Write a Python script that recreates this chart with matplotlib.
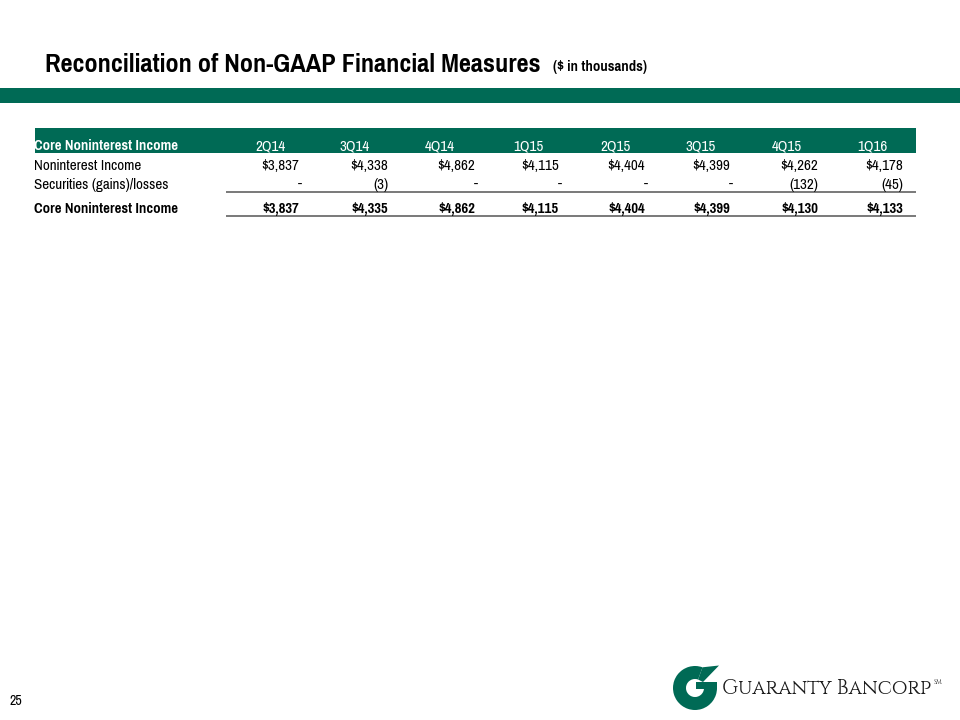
import matplotlib
matplotlib.use("Agg")
import matplotlib.pyplot as plt
from matplotlib.patches import Rectangle, Wedge, Polygon
from matplotlib import font_manager

# ---------------- data ----------------
quarters = ["2Q14", "3Q14", "4Q14", "1Q15", "2Q15", "3Q15", "4Q15", "1Q16"]
noninterest_income = ["$3,837", "$4,338", "$4,862", "$4,115", "$4,404", "$4,399", "$4,262", "$4,178"]
securities_gains_losses = ["-", "(3)", "-", "-", "-", "-", "(132)", "(45)"]
core_noninterest_income = ["$3,837", "$4,335", "$4,862", "$4,115", "$4,404", "$4,399", "$4,130", "$4,133"]
row_labels = ["Noninterest Income", "Securities (gains)/losses", "Core Noninterest Income"]
table_title = "Core Noninterest Income"
title = "Reconciliation of Non-GAAP Financial Measures"
subtitle = "($ in thousands)"
page_number = "25"
logo_text = "Guaranty Bancorp"

# ---------------- style ----------------
GREEN = "#006A55"
avail = {f.name for f in font_manager.fontManager.ttflist}
def pick(cands):
    return [f for f in cands if f in avail] + ["DejaVu Sans"]
narrow = pick(["Pragati Narrow", "Roboto Condensed", "Liberation Sans"])
logo_font = pick(["Cinzel", "Liberation Serif"])

fig = plt.figure(figsize=(9.6, 7.2), dpi=100)
ax = fig.add_axes([0, 0, 1, 1])
ax.set_xlim(0, 960)
ax.set_ylim(720, 0)
ax.axis("off")

# title
ax.text(45, 71.5, title, fontsize=20.6, fontweight="bold", family=narrow, color="black", va="baseline")
ax.text(553, 70.5, subtitle, fontsize=11.5, fontweight="bold", family=narrow, color="black", va="baseline")

# green band
ax.add_patch(Rectangle((0, 88), 960, 15, color=GREEN, lw=0))

# table header band
ax.add_patch(Rectangle((35, 127.5), 881, 25.5, color=GREEN, lw=0))
FS = 11.8
ax.text(34, 150.5, table_title, fontsize=FS - 0.3, fontweight="bold", family=narrow, color="white", va="baseline")
head_x = [255, 339, 425, 513, 600, 685, 772, 857]
for hx, q in zip(head_x, quarters):
    ax.text(hx, 150.5, q, fontsize=FS, family=narrow, color="white", va="baseline")

col_right = [299, 388, 475, 559, 645, 730, 818, 903]
row_y = [170.5, 188.5, 213]

ax.text(34, row_y[0], row_labels[0], fontsize=FS, family=narrow, va="baseline")
ax.text(34, row_y[1], row_labels[1], fontsize=FS, family=narrow, va="baseline")
ax.text(34, row_y[2], row_labels[2], fontsize=FS - 0.3, fontweight="bold", family=narrow, va="baseline")

for cx, v1, v2, v3 in zip(col_right, noninterest_income, securities_gains_losses, core_noninterest_income):
    ax.text(cx, row_y[0], v1, fontsize=FS, family=narrow, ha="right", va="baseline")
    dx = 3 if v2 == "-" else 0
    ax.text(cx + dx, row_y[1], v2, fontsize=FS, family=narrow, ha="right", va="baseline")
    ax.text(cx, row_y[2], v3, fontsize=FS - 0.3, fontweight="bold", family=narrow, ha="right", va="baseline")

# rule lines
ax.plot([226, 916], [192.3, 192.3], color="#6e6e6e", lw=1.3, solid_capstyle="butt")
ax.plot([226, 916], [216, 216], color="#6e6e6e", lw=1.3, solid_capstyle="butt")

# page number
ax.text(10, 705, page_number, fontsize=11, family=narrow, va="baseline")

# logo mark (stylised G)
ax.add_patch(Wedge((695, 688), 22, 0, 290, width=13, color=GREEN, lw=0))
ax.add_patch(Rectangle((696, 682), 21, 7, color=GREEN, lw=0))
ax.add_patch(Polygon([[702.5, 667.3], [719, 665.5], [703, 682], [698.1, 679.5]], closed=True, color=GREEN, lw=0))

# logo wordmark (small caps serif), sized to span the reference width
wm = ax.text(722, 693.5, logo_text, fontsize=15, family=logo_font, va="baseline", color="#1a1a1a")
renderer = fig.canvas.get_renderer()
w = wm.get_window_extent(renderer).width
target = 932 - 722
wm.set_fontsize(15 * target / w)
ax.text(934, 684, "SM", fontsize=4.5, family=logo_font, fontweight="bold", va="baseline", color="#1a1a1a")

fig.savefig("out.png", dpi=100)
